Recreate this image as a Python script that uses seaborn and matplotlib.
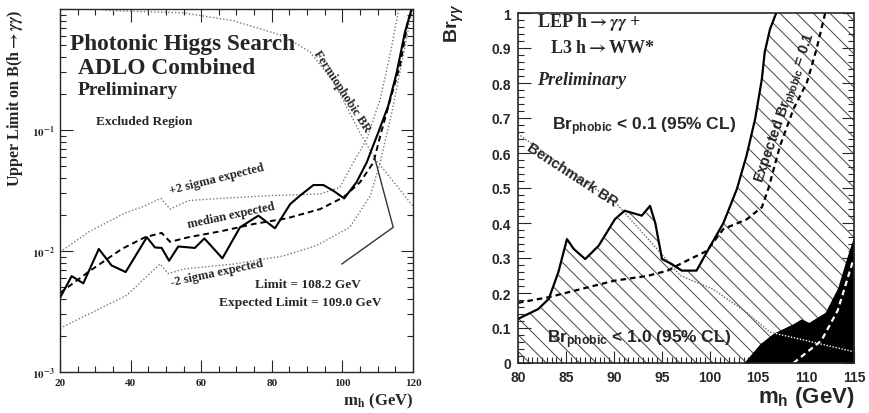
import matplotlib
matplotlib.use("Agg")
import matplotlib.pyplot as plt
from matplotlib.ticker import FixedLocator, FixedFormatter, MultipleLocator, LogLocator, NullFormatter
import seaborn as sns

# ---------------- left panel: ADLO combined photonic Higgs search ----------------
mh_obs = [20.0, 23.3, 26.6, 31.0, 34.6, 38.6, 44.6, 46.9, 48.8, 50.9, 53.5, 58.2, 60.9,
          66.0, 71.0, 76.2, 80.9, 85.2, 88.0, 91.8, 94.6, 97.4, 100.5, 104.0, 106.9,
          108.2, 110.2, 113.0, 115.4, 117.7, 119.6]
lim_obs = [0.0041, 0.0062, 0.0054, 0.0104, 0.0076, 0.0067, 0.0130, 0.0107, 0.0106, 0.0083,
           0.0109, 0.0106, 0.0127, 0.0087, 0.0157, 0.0196, 0.0154, 0.0244, 0.0287, 0.0351,
           0.0351, 0.0315, 0.0272, 0.0370, 0.0540, 0.0680, 0.0960, 0.159, 0.300, 0.640, 1.0]

mh_med = [20.0, 28.0, 37.5, 44.1, 48.8, 51.2, 56.4, 65.8, 74.8, 84.2, 93.7, 100.3, 105.0,
          108.8, 111.0, 113.6, 116.3, 118.7, 120.0]
lim_med = [0.0045, 0.0067, 0.0104, 0.0130, 0.0141, 0.0119, 0.0130, 0.0146, 0.0167, 0.0186,
           0.0222, 0.0278, 0.0370, 0.0540, 0.0960, 0.180, 0.340, 0.830, 1.0]

mh_p2s = [20.0, 28.0, 38.4, 43.1, 48.6, 51.2, 56.4, 65.3, 79.5, 93.7, 99.3, 103.1, 106.9,
          110.7, 113.5, 116.0]
lim_p2s = [0.0098, 0.0143, 0.0206, 0.0230, 0.0272, 0.0222, 0.0261, 0.0272, 0.0287, 0.0296,
           0.0336, 0.0540, 0.0840, 0.180, 0.420, 1.0]

mh_m2s = [20.0, 38.9, 48.3, 50.7, 55.0, 69.1, 83.3, 92.7, 102.1, 107.9, 110.7, 114.0, 117.0,
          119.8]
lim_m2s = [0.0023, 0.0043, 0.0078, 0.0065, 0.0071, 0.0078, 0.0091, 0.0111, 0.0157, 0.0286,
           0.0540, 0.140, 0.380, 1.0]

mh_fph = [30.0, 34.2, 54.9, 69.1, 83.3, 90.9, 97.5, 101.0, 104.9, 109.2, 120.0]
br_fph = [1.0, 0.97, 0.93, 0.80, 0.60, 0.44, 0.25, 0.16, 0.096, 0.058, 0.0235]

# pointer from the crossing point to the limit labels
mh_ptr = [109.2, 114.4, 99.8]
lim_ptr = [0.058, 0.0157, 0.0078]

left_yticks = [1e-3, 1e-2, 1e-1, 1.0]
left_yticklabels = [r"$\mathbf{10^{-3}}$", r"$\mathbf{10^{-2}}$", r"$\mathbf{10^{-1}}$", ""]
left_xticks = [20, 40, 60, 80, 100, 120]

# ---------------- right panel: LEP h->gg + L3 h->WW* ----------------
mh_r_obs = [80.0, 82.1, 83.2, 84.2, 85.1, 85.8, 87.0, 88.4, 90.1, 91.1, 92.9, 93.75, 94.3,
            95.0, 96.0, 97.05, 98.6, 99.65, 101.4, 102.8, 103.8, 104.7, 105.4, 105.7,
            106.25, 106.9]
br_r_obs = [0.126, 0.154, 0.183, 0.259, 0.354, 0.326, 0.297, 0.335, 0.411, 0.435, 0.421,
            0.449, 0.400, 0.297, 0.283, 0.264, 0.264, 0.316, 0.400, 0.497, 0.592, 0.697,
            0.811, 0.888, 0.954, 1.0]

mh_r_exp = [80.0, 83.2, 90.0, 93.5, 95.6, 96.9, 99.65, 101.4, 103.8, 105.4, 106.1, 107.3,
            108.7, 110.1, 111.1, 112.0]
br_r_exp = [0.172, 0.188, 0.235, 0.249, 0.264, 0.283, 0.320, 0.383, 0.410, 0.445, 0.500,
            0.621, 0.726, 0.802, 0.897, 1.0]

mh_bench = [80.0, 86.5, 90.1, 95.0, 96.9, 100.3, 103.8, 106.25, 110.8, 115.0]
br_bench = [0.655, 0.526, 0.460, 0.310, 0.250, 0.211, 0.145, 0.088, 0.059, 0.032]

mh_phobic1 = [103.5, 105.2, 106.6, 108.7, 109.5, 110.3, 112.0, 113.3, 114.2, 115.0]
br_phobic1 = [0.0, 0.055, 0.085, 0.113, 0.126, 0.116, 0.145, 0.215, 0.297, 0.364]

mh_phobic1_exp = [108.7, 111.6, 113.3, 114.2, 114.95]
br_phobic1_exp = [0.0, 0.064, 0.150, 0.230, 0.297]

right_yticks = [0.0, 0.1, 0.2, 0.3, 0.4, 0.5, 0.6, 0.7, 0.8, 0.9, 1.0]
right_yticklabels = ["0", "0.1", "0.2", "0.3", "0.4", "0.5", "0.6", "0.7", "0.8", "0.9", "1"]
right_xticks = [80, 85, 90, 95, 100, 105, 110, 115]

# ---------------- style ----------------
sns.set_style("ticks")
plt.rcParams["font.family"] = ["Liberation Serif", "DejaVu Serif"]
plt.rcParams["font.weight"] = "bold"
plt.rcParams["mathtext.fontset"] = "stix"
plt.rcParams["hatch.linewidth"] = 0.7
plt.rcParams["axes.linewidth"] = 1.0

SERIF = "Liberation Serif"
SANS = "Liberation Sans"

fig = plt.figure(figsize=(8.7, 4.14), dpi=100)
axL = fig.add_axes([60 / 870, 1 - 373 / 414, 353 / 870, 363 / 414])
axR = fig.add_axes([518 / 870, 1 - 364 / 414, 336 / 870, 350 / 414])

# ---------------- left panel drawing ----------------
axL.set_yscale("log")
sns.lineplot(x=mh_fph, y=br_fph, ax=axL, color="#777777", lw=1.0, ls=(0, (1, 1.5)),
             sort=False, estimator=None)
sns.lineplot(x=mh_p2s, y=lim_p2s, ax=axL, color="#777777", lw=1.0, ls=(0, (1, 1.5)),
             sort=False, estimator=None)
sns.lineplot(x=mh_m2s, y=lim_m2s, ax=axL, color="#777777", lw=1.0, ls=(0, (1, 1.5)),
             sort=False, estimator=None)
sns.lineplot(x=mh_med, y=lim_med, ax=axL, color="black", lw=1.4, ls=(0, (3, 2)),
             sort=False, estimator=None)
sns.lineplot(x=mh_obs, y=lim_obs, ax=axL, color="black", lw=1.5, sort=False, estimator=None)
sns.lineplot(x=mh_ptr, y=lim_ptr, ax=axL, color="#333333", lw=1.0, sort=False, estimator=None)

axL.set_xlim(20, 120)
axL.set_ylim(1e-3, 1.0)
axL.yaxis.set_major_locator(FixedLocator(left_yticks))
axL.yaxis.set_major_formatter(FixedFormatter(left_yticklabels))
axL.yaxis.set_minor_locator(LogLocator(base=10, subs=[2, 3, 4, 5, 6, 7, 8, 9]))
axL.yaxis.set_minor_formatter(NullFormatter())
axL.xaxis.set_major_locator(FixedLocator(left_xticks))
axL.xaxis.set_minor_locator(MultipleLocator(5))
axL.tick_params(which="both", direction="in", top=True, right=True, width=0.8)
axL.tick_params(which="major", length=9, labelsize=8, pad=4)
axL.tick_params(which="minor", length=4.5)
for lab in axL.get_xticklabels() + axL.get_yticklabels():
    lab.set_fontfamily(SERIF)
    lab.set_fontweight("bold")
axL.set_xlabel("")
axL.set_ylabel("")
for sp in axL.spines.values():
    sp.set_linewidth(1.0)

tL = axL.transAxes
axL.text(0.028, 0.890, "Photonic Higgs Search", transform=tL, fontsize=16.8,
         fontweight="bold", family=SERIF)
axL.text(0.051, 0.824, "ADLO Combined", transform=tL, fontsize=16.8,
         fontweight="bold", family=SERIF)
axL.text(0.051, 0.766, "Preliminary", transform=tL, fontsize=14,
         fontweight="bold", family=SERIF)
axL.text(0.102, 0.683, "Excluded Region", transform=tL, fontsize=9.5,
         fontweight="bold", family=SERIF)
axL.text(0.445, 0.532, "+2 sigma expected", transform=tL, fontsize=9, rotation=14,
         ha="center", va="center", fontweight="bold", family=SERIF)
axL.text(0.484, 0.433, "median expected", transform=tL, fontsize=9, rotation=12,
         ha="center", va="center", fontweight="bold", family=SERIF)
axL.text(0.445, 0.275, "-2 sigma expected", transform=tL, fontsize=9, rotation=12,
         ha="center", va="center", fontweight="bold", family=SERIF)
axL.text(0.552, 0.234, "Limit = 108.2 GeV", transform=tL, fontsize=9.6,
         fontweight="bold", family=SERIF)
axL.text(0.450, 0.185, "Expected Limit = 109.0 GeV", transform=tL, fontsize=9.6,
         fontweight="bold", family=SERIF)
axL.text(0.80, 0.775, "Fermiophobic BR", transform=tL, fontsize=9, rotation=-57,
         ha="center", va="center", fontweight="bold", family=SERIF)
axL.text(-0.128, 1.0, r"Upper Limit on B(h$\rightarrow\gamma\gamma$)", transform=tL,
         fontsize=11.5, rotation=90, ha="center", va="top", fontweight="bold", family=SERIF)
axL.text(1.0, -0.052, r"m$_{\mathbf{h}}$ (GeV)", transform=tL, fontsize=12,
         ha="right", va="top", fontweight="bold", family=SERIF)

# ---------------- right panel drawing ----------------
hatch_x = mh_r_obs + [115.0]
hatch_y = br_r_obs + [1.0]
axR.fill_between(hatch_x, 0, hatch_y, facecolor="none", edgecolor="#444444",
                 hatch="\\\\", linewidth=0, zorder=1)
phobic_fill = axR.fill_between(mh_phobic1, 0, br_phobic1, color="black", lw=0, zorder=3)

sns.lineplot(x=mh_bench, y=br_bench, ax=axR, color="#666666", lw=1.0, ls=(0, (1, 1.2)),
             sort=False, estimator=None, zorder=2)
sns.lineplot(x=mh_bench, y=br_bench, ax=axR, color="white", lw=1.0, ls=(0, (1, 1.2)),
             sort=False, estimator=None, zorder=4)
axR.lines[-1].set_clip_path(phobic_fill.get_paths()[0], axR.transData)
sns.lineplot(x=mh_phobic1_exp, y=br_phobic1_exp, ax=axR, color="white", lw=1.6,
             ls=(0, (2.5, 1.8)), sort=False, estimator=None, zorder=5)
sns.lineplot(x=mh_r_exp, y=br_r_exp, ax=axR, color="black", lw=1.6, ls=(0, (2.5, 1.8)),
             sort=False, estimator=None, zorder=5)
sns.lineplot(x=mh_r_obs, y=br_r_obs, ax=axR, color="black", lw=1.6, sort=False,
             estimator=None, zorder=6)

axR.set_xlim(80, 115)
axR.set_ylim(0, 1)
axR.yaxis.set_major_locator(FixedLocator(right_yticks))
axR.yaxis.set_major_formatter(FixedFormatter(right_yticklabels))
axR.yaxis.set_minor_locator(MultipleLocator(0.02))
axR.xaxis.set_major_locator(FixedLocator(right_xticks))
axR.xaxis.set_minor_locator(MultipleLocator(0.5))
axR.tick_params(which="both", direction="in", right=True, top=False, width=0.8)
axR.tick_params(which="major", length=9, labelsize=10, pad=5)
axR.tick_params(which="minor", length=4.5)
for lab in axR.get_xticklabels() + axR.get_yticklabels():
    lab.set_fontfamily(SANS)
    lab.set_fontweight("bold")
axR.set_xlabel("")
axR.set_ylabel("")
for sp in axR.spines.values():
    sp.set_linewidth(1.2)
    sp.set_zorder(10)

plt.rcParams["mathtext.rm"] = "Liberation Sans:bold"
plt.rcParams["mathtext.bf"] = "Liberation Sans:bold"
plt.rcParams["mathtext.it"] = "Liberation Sans:bold:italic"

tR = axR.transAxes
axR.text(0.057, 0.963, r"LEP h$\mathbf{\rightarrow}\gamma\gamma$ +", transform=tR,
         fontsize=13, fontweight="bold", family=SERIF)
axR.text(0.095, 0.889, r"L3 h$\mathbf{\rightarrow}$WW*", transform=tR, fontsize=13,
         fontweight="bold", family=SERIF)
axR.text(0.057, 0.797, "Preliminary", transform=tR, fontsize=13, fontweight="bold",
         style="italic", family=SERIF)
axR.text(0.10, 0.669, r"Br$_{\mathbf{phobic}}$ < 0.1 (95% CL)", transform=tR,
         fontsize=12.5, fontweight="bold", family=SANS, math_fontfamily="custom")
axR.text(0.087, 0.06, r"Br$_{\mathbf{phobic}}$ < 1.0 (95% CL)", transform=tR,
         fontsize=12.5, fontweight="bold", family=SANS, math_fontfamily="custom", zorder=7)
axR.text(0.16, 0.54, "Benchmark BR", transform=tR, fontsize=10.5, rotation=-33,
         ha="center", va="center", fontweight="bold", family=SANS, zorder=7)
axR.text(0.795, 0.73, r"Expected Br$_{\mathbf{phobic}}$ = 0.1", transform=tR,
         fontsize=10.5, rotation=71, ha="center", va="center", fontweight="bold",
         family=SANS, math_fontfamily="custom", zorder=7)
axR.text(-0.19, 1.03, r"Br$_{\gamma\gamma}$", transform=tR, fontsize=14, rotation=90,
         ha="center", va="top", fontweight="bold", family=SANS, math_fontfamily="custom")
axR.text(1.0, -0.06, r"m$_{\mathbf{h}}$ (GeV)", transform=tR, fontsize=16,
         ha="right", va="top", fontweight="bold", family=SANS, math_fontfamily="custom")

fig.savefig("out.png", dpi=100)
